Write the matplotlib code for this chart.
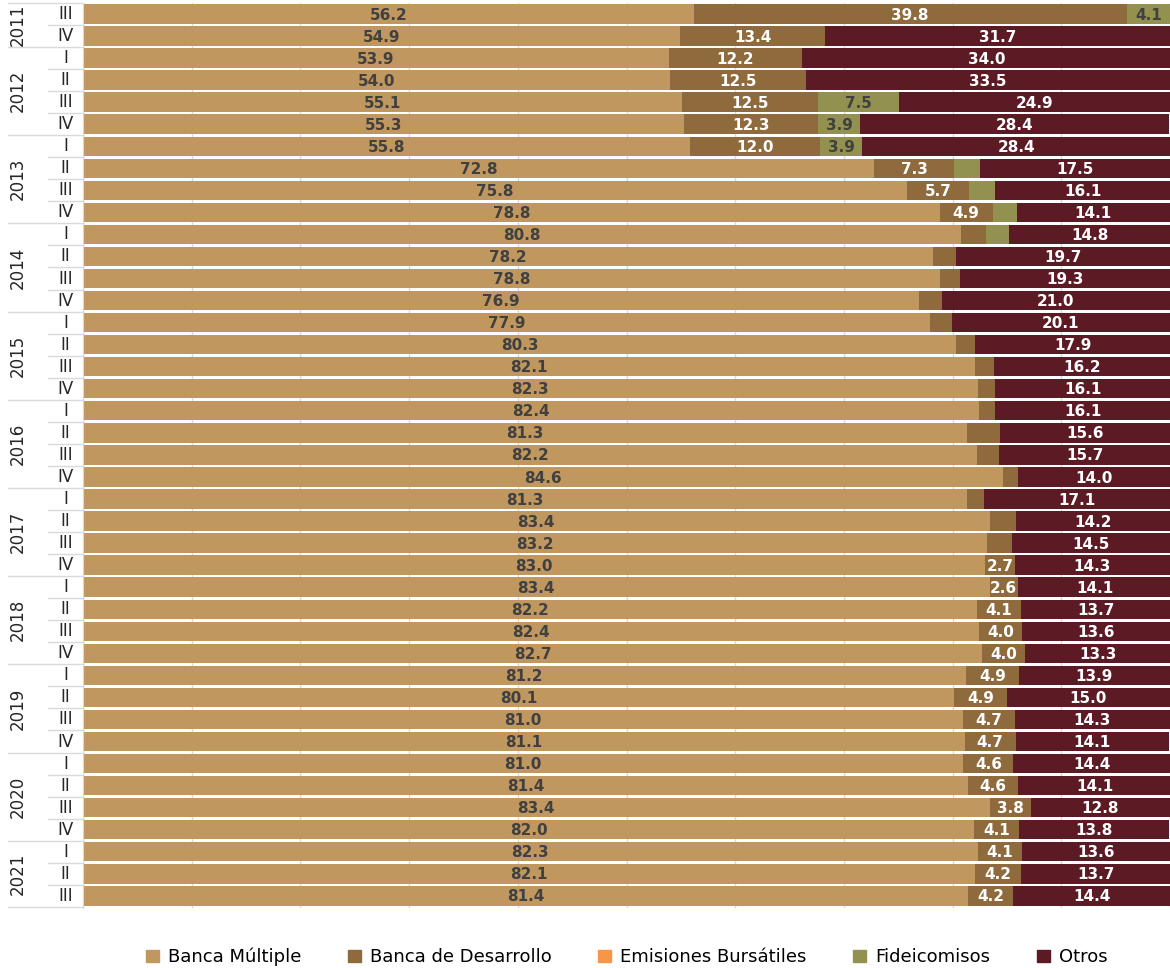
import matplotlib.pyplot as plt
from matplotlib.patches import Patch

plt.rcParams['font.family'] = ['DejaVu Sans']

anios = ["2011", "2012", "2013", "2014", "2015", "2016",
         "2017", "2018", "2019", "2020", "2021"]
trimestres_por_anio = [
    ["III", "IV"],
    ["I", "II", "III", "IV"], ["I", "II", "III", "IV"], ["I", "II", "III", "IV"],
    ["I", "II", "III", "IV"], ["I", "II", "III", "IV"], ["I", "II", "III", "IV"],
    ["I", "II", "III", "IV"], ["I", "II", "III", "IV"], ["I", "II", "III", "IV"],
    ["I", "II", "III"],
]

series = ["Banca Múltiple", "Banca de Desarrollo", "Emisiones Bursátiles",
          "Fideicomisos", "Otros"]

banca_multiple = [56.2, 54.9, 53.9, 54.0, 55.1, 55.3, 55.8, 72.8, 75.8, 78.8,
                  80.8, 78.2, 78.8, 76.9, 77.9, 80.3, 82.1, 82.3, 82.4, 81.3,
                  82.2, 84.6, 81.3, 83.4, 83.2, 83.0, 83.4, 82.2, 82.4, 82.7,
                  81.2, 80.1, 81.0, 81.1, 81.0, 81.4, 83.4, 82.0, 82.3, 82.1,
                  81.4]
banca_desarrollo = [39.8, 13.4, 12.2, 12.5, 12.5, 12.3, 12.0, 7.3, 5.7, 4.9,
                    2.3, 2.1, 1.9, 2.1, 2.0, 1.8, 1.7, 1.6, 1.5, 3.1,
                    2.1, 1.4, 1.6, 2.4, 2.3, 2.7, 2.6, 4.1, 4.0, 4.0,
                    4.9, 4.9, 4.7, 4.7, 4.6, 4.6, 3.8, 4.1, 4.1, 4.2,
                    4.2]
emisiones = [0.0] * 41
fideicomisos = [4.1, 0.0, 0.0, 0.0, 7.5, 3.9, 3.9, 2.4, 2.4, 2.2,
                2.1] + [0.0] * 30
otros = [0.0, 31.7, 34.0, 33.5, 24.9, 28.4, 28.4, 17.5, 16.1, 14.1,
         14.8, 19.7, 19.3, 21.0, 20.1, 17.9, 16.2, 16.1, 16.1, 15.6,
         15.7, 14.0, 17.1, 14.2, 14.5, 14.3, 14.1, 13.7, 13.6, 13.3,
         13.9, 15.0, 14.3, 14.1, 14.4, 14.1, 12.8, 13.8, 13.6, 13.7,
         14.4]

# filas (indices) cuyas etiquetas se muestran en la grafica original
etiqueta_bd = list(range(0, 10)) + list(range(25, 41))
etiqueta_fid = [0, 4, 5, 6]

colores = ['#C0975F', '#8E6A3C', '#F79646', '#939150', '#5C1A24']
color_texto = ['#404040', 'white', 'white', '#404040', 'white']

datos = [banca_multiple, banca_desarrollo, emisiones, fideicomisos, otros]
n = len(banca_multiple)
pos = list(range(n))

fig = plt.figure(figsize=(11.7, 9.68), dpi=100)
ax = fig.add_axes([0.071, 0.062, 0.929, 0.935])

izq = [0.0] * n
for k in range(5):
    bars = ax.barh(pos, datos[k], left=izq, height=0.88, color=colores[k],
                   label=series[k], zorder=2)
    for i, b in enumerate(bars):
        v = datos[k][i]
        mostrar = v > 0 and (k in (0, 4) or (k == 1 and i in etiqueta_bd)
                             or (k == 3 and i in etiqueta_fid))
        if mostrar:
            ax.text(izq[i] + v / 2, i + 0.05, f"{v:.1f}", ha='center', va='center',
                    fontsize=11, fontweight='bold', color=color_texto[k], zorder=3)
    izq = [a + b for a, b in zip(izq, datos[k])]

ax.set_xlim(0, 100)
ax.set_ylim(n - 0.45, -0.5)
ax.set_xticks(range(0, 101, 10))
ax.tick_params(axis='x', length=0, labelbottom=False)
ax.set_yticks([])
ax.grid(axis='x', color='#D9D9D9', linewidth=1, zorder=0)
for s in ['top', 'right', 'bottom']:
    ax.spines[s].set_visible(False)
ax.spines['left'].set_color('#D9D9D9')

# etiquetas de categorias en dos niveles
tr = ax.get_yaxis_transform()
x_anio_lin = -0.069
x_trim_lin = -0.032
fila = 0
ax.plot([x_anio_lin, 0], [-0.5, -0.5], transform=tr, color='#D9D9D9',
        lw=1, clip_on=False)
for anio, trims in zip(anios, trimestres_por_anio):
    for j, t in enumerate(trims):
        ax.text(-0.016, fila + j, t, transform=tr, ha='center', va='center',
                fontsize=12, color='#262626')
        if j < len(trims) - 1:
            ax.plot([x_trim_lin, 0], [fila + j + 0.5] * 2, transform=tr,
                    color='#D9D9D9', lw=1, clip_on=False)
    centro = fila + (len(trims) - 1) / 2
    ax.text(-0.060, centro, anio, transform=tr, ha='center', va='center',
            rotation=90, fontsize=12, color='#262626')
    fila += len(trims)
    ax.plot([x_anio_lin, 0], [fila - 0.5] * 2, transform=tr,
            color='#D9D9D9', lw=1, clip_on=False)

handles = [Patch(color=c, label=s) for c, s in zip(colores, series)]
ax.legend(handles=handles, loc='upper center', bbox_to_anchor=(0.5, -0.026),
          ncol=5, frameon=False, fontsize=13, handlelength=0.7,
          handleheight=0.7, handletextpad=0.5, columnspacing=2.6)

plt.savefig('out.png', dpi=100)
